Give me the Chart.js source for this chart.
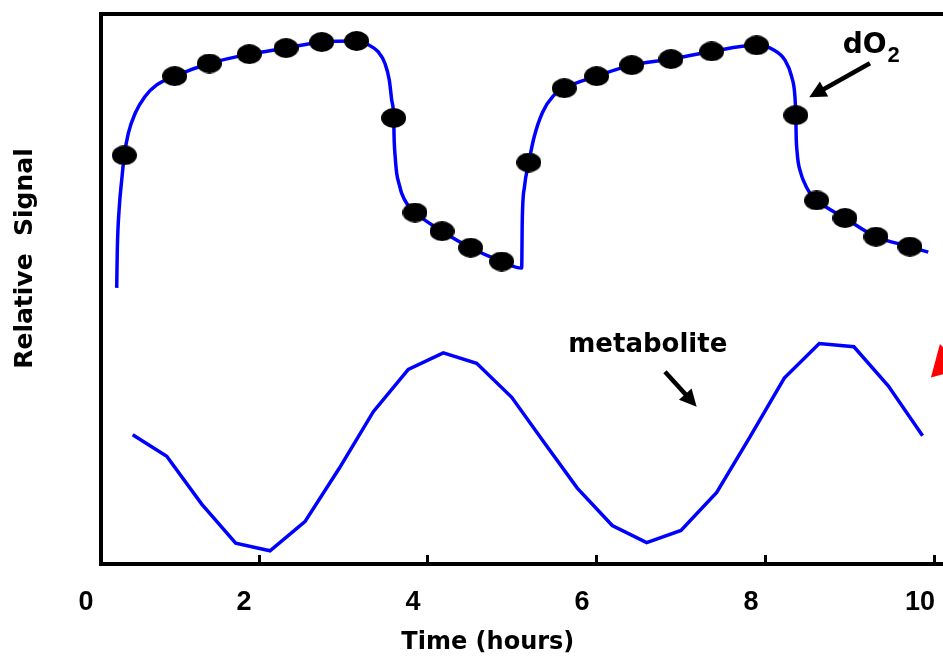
<!DOCTYPE html>
<html>
<head>
<meta charset="utf-8">
<script src="https://cdn.jsdelivr.net/npm/chart.js@4"></script>
<style>
html,body{margin:0;padding:0;overflow:hidden;background:#ffffff;width:943px;height:657px}
canvas{display:block}
</style>
</head>
<body>
<canvas id="chart" width="1000" height="657"></canvas>
<script>
// ---------- data ----------
const dO2CurveHours = [0.316,0.323,0.347,0.375,0.406,0.453,0.533,0.651,0.789,1.002,1.412,1.885,2.320,2.742,3.156,3.294,3.412,3.491,3.542,3.570,3.594,3.600,3.612,3.630,3.660,3.689,3.755,3.846,4.166,4.505,4.872,5.109,5.116,5.142,5.193,5.254,5.355,5.483,5.613,5.996,6.411,6.876,7.357,7.890,8.086,8.225,8.304,8.343,8.353,8.358,8.368,8.382,8.410,8.441,8.521,8.600,8.935,9.302,9.704,9.921];
const dO2CurveValues = [50.2,57.1,65.0,69.8,74.3,78.3,81.9,85.0,87.1,88.7,91.0,92.7,93.8,94.9,95.1,94.4,93.1,91.0,88.0,84.4,81.1,77.0,74.0,71.0,69.0,67.4,65.4,63.9,60.5,57.5,55.0,53.8,62.5,68.6,73.0,77.5,82.1,85.1,86.5,88.7,90.7,91.8,93.2,94.3,93.5,91.6,88.6,85.0,81.6,77.5,75.0,73.0,71.2,69.8,67.4,66.1,62.9,59.5,57.7,56.7];

const dO2SampleHours = [0.406,1.002,1.412,1.885,2.320,2.742,3.156,3.594,3.846,4.166,4.505,4.872,5.193,5.613,5.996,6.411,6.876,7.357,7.890,8.353,8.600,8.935,9.302,9.704];
const dO2SampleValues = [74.3,88.7,91.0,92.7,93.8,94.9,95.1,81.1,63.9,60.5,57.5,55.0,73.0,86.5,88.7,90.7,91.8,93.2,94.3,81.6,66.1,62.9,59.5,57.7];

const metaboliteHours = [0.505,0.908,1.322,1.724,2.130,2.544,2.950,3.353,3.767,4.181,4.576,4.991,5.379,5.767,6.181,6.588,6.994,7.417,7.811,8.217,8.631,9.041,9.447,9.854];
const metaboliteValues = [23.5,19.6,10.9,3.8,2.4,7.7,17.4,27.7,35.4,38.4,36.5,30.3,22.0,13.8,7.0,3.9,6.1,13.0,23.1,33.8,40.1,39.5,32.4,23.3];

const redMarkerHours = [10.12];
const redMarkerValues = [36.5];

const xTickValues = [0, 2, 4, 6, 8, 10];
const xTickLabels = ['0', '2', '4', '6', '8', '10'];

const xMin = 0.13, xMax = 10.77, yMin = 0, yMax = 100;

// annotation texts and arrows (data units)
const annotationTexts = [
  {text: 'dO', sub: '2', hour: 8.908, value: 92.85, size: 28},
  {text: 'metabolite', sub: '', hour: 5.66, value: 38.6, size: 26}
];
const annotationArrows = [
  {fromHour: 9.231, fromValue: 91.04, toHour: 8.512, toValue: 84.85},
  {fromHour: 6.805, fromValue: 34.96, toHour: 7.180, toValue: 28.6}
];

// ---------- build ----------
const toPoints = (xs, ys) => xs.map((x, i) => ({x: x, y: ys[i]}));

const ellipse = document.createElement('canvas');
ellipse.width = 25; ellipse.height = 20;
(function(){
  const c = ellipse.getContext('2d');
  c.fillStyle = '#000000';
  c.beginPath();
  c.ellipse(12.5, 10, 12.5, 10, 0, 0, Math.PI * 2);
  c.fill();
})();

const annotationPlugin = {
  id: 'annotationPlugin',
  afterDatasetsDraw(chart) {
    const ctx = chart.ctx;
    const xs = chart.scales.x, ys = chart.scales.y;
    ctx.save();
    ctx.fillStyle = '#000000';
    ctx.strokeStyle = '#000000';
    ctx.lineCap = 'butt';
    annotationArrows.forEach(a => {
      const x1 = xs.getPixelForValue(a.fromHour), y1 = ys.getPixelForValue(a.fromValue);
      const x2 = xs.getPixelForValue(a.toHour), y2 = ys.getPixelForValue(a.toValue);
      const dx = x2 - x1, dy = y2 - y1, len = Math.hypot(dx, dy);
      const ux = dx / len, uy = dy / len;
      const head = 17, half = 8.5;
      const bx = x2 - ux * head, by = y2 - uy * head;
      ctx.lineWidth = 4.5;
      ctx.beginPath();
      ctx.moveTo(x1, y1);
      ctx.lineTo(bx + ux * 2, by + uy * 2);
      ctx.stroke();
      ctx.beginPath();
      ctx.moveTo(x2, y2);
      ctx.lineTo(bx - uy * half, by + ux * half);
      ctx.lineTo(bx + uy * half, by - ux * half);
      ctx.closePath();
      ctx.fill();
    });
    ctx.textBaseline = 'alphabetic';
    ctx.textAlign = 'left';
    annotationTexts.forEach(t => {
      const px = xs.getPixelForValue(t.hour), py = ys.getPixelForValue(t.value);
      ctx.font = 'bold ' + t.size + 'px "DejaVu Sans", sans-serif';
      ctx.fillText(t.text, px, py);
      if (t.sub) {
        const w = ctx.measureText(t.text).width;
        ctx.font = 'bold 22px "Liberation Sans", Arial, sans-serif';
        ctx.fillText(t.sub, px + w + 1, py + 8.4);
      }
    });
    ctx.restore();
  }
};

new Chart(document.getElementById('chart'), {
  type: 'line',
  data: {
    datasets: [
      {
        label: 'dO2 samples',
        data: toPoints(dO2SampleHours, dO2SampleValues),
        showLine: false,
        pointStyle: ellipse,
        pointRadius: 12,
        pointHoverRadius: 12,
        pointBorderWidth: 0
      },
      {
        label: 'dO2',
        data: toPoints(dO2CurveHours, dO2CurveValues),
        borderColor: '#0000ff',
        borderWidth: 3.5,
        pointRadius: 0,
        cubicInterpolationMode: 'monotone',
        fill: false
      },
      {
        label: 'metabolite',
        data: toPoints(metaboliteHours, metaboliteValues),
        borderColor: '#0000ff',
        borderWidth: 3.5,
        pointRadius: 0,
        tension: 0,
        fill: false
      },
      {
        label: 'marker',
        data: toPoints(redMarkerHours, redMarkerValues),
        showLine: false,
        pointStyle: 'triangle',
        pointRadius: 20,
        pointRotation: 225,
        pointBackgroundColor: '#ff0000',
        pointBorderColor: '#ff0000',
        pointBorderWidth: 0
      }
    ]
  },
  options: {
    responsive: false,
    animation: false,
    devicePixelRatio: 1,
    layout: {autoPadding: false, padding: {left: 0, right: 0, top: 14, bottom: 0}},
    plugins: {legend: {display: false}, tooltip: {enabled: false}},
    scales: {
      x: {
        type: 'linear',
        position: 'bottom',
        min: xMin,
        max: xMax,
        afterBuildTicks: axis => { axis.ticks = xTickValues.map(v => ({value: Math.max(v, axis.min)})); },
        afterFit: s => { s.height = 93; },
        grid: {display: true, drawOnChartArea: false, drawTicks: true, tickLength: -9, tickWidth: 3, tickColor: '#000000', color: '#000000'},
        border: {display: true, color: '#000000', width: 4},
        ticks: {
          color: '#000000',
          font: {family: '"Liberation Sans", Arial, sans-serif', size: 27, weight: 'bold', lineHeight: 1.2},
          padding: 31,
          labelOffset: -15,
          maxRotation: 0,
          autoSkip: false,
          callback: (v, i) => xTickLabels[i]
        },
        title: {
          display: true,
          text: 'Time (hours)               ',
          color: '#000000',
          font: {family: '"DejaVu Sans", sans-serif', size: 24, weight: 'bold', lineHeight: 1.2},
          padding: {top: 0, bottom: 0}
        }
      },
      x2: {
        type: 'linear',
        position: 'top',
        min: xMin,
        max: xMax,
        afterFit: s => { s.height = 0; },
        grid: {display: false, drawTicks: false},
        border: {display: true, color: '#000000', width: 4},
        ticks: {display: false}
      },
      y: {
        type: 'linear',
        position: 'left',
        min: yMin,
        max: yMax,
        afterFit: s => { s.width = 101; },
        grid: {display: false, drawTicks: false},
        border: {display: true, color: '#000000', width: 4},
        ticks: {display: false},
        title: {
          display: true,
          text: '       Relative  Signal',
          color: '#000000',
          font: {family: '"DejaVu Sans", sans-serif', size: 25, weight: 'bold', lineHeight: 1.2},
          padding: {top: 10.4, bottom: 0}
        }
      }
    }
  },
  plugins: [annotationPlugin]
});
</script>
</body>
</html>
